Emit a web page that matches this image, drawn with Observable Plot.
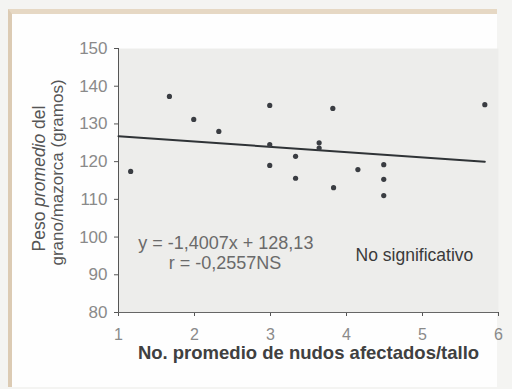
<!DOCTYPE html>
<html><head><meta charset="utf-8">
<script src="https://cdn.jsdelivr.net/npm/d3@7"></script>
<script src="https://cdn.jsdelivr.net/npm/@observablehq/plot@0.6"></script>
<style>
html,body{margin:0;padding:0;background:#f4f4f2;}
#wrap{position:absolute;left:0;top:0;width:512px;height:389px;}
#panel{position:absolute;left:8px;top:9px;width:489px;height:378px;background:#fefefe;border-top:5px solid #e6d8c4;border-left:4px solid #dccbb4;box-sizing:border-box;}
#chart{position:absolute;left:0;top:0;}
</style></head>
<body>
<div id="wrap"><div id="panel"></div><div id="chart"></div></div>
<script>
const nudos = [1.16, 1.67, 1.99, 2.32, 2.99, 2.99, 2.99, 3.33, 3.33, 3.64, 3.64, 3.82, 3.83, 4.15, 4.49, 4.49, 4.49, 5.82];
const peso  = [117.4, 137.3, 131.2, 128.0, 134.9, 124.5, 119.0, 121.4, 115.6, 125.0, 123.6, 134.1, 113.1, 117.9, 119.2, 115.3, 111.0, 135.1];
const xTicks = [1, 2, 3, 4, 5, 6];
const yTicks = [80, 90, 100, 110, 120, 130, 140, 150];
const slope = -1.4007, intercept = 128.13;
const lineX = [1, 5.82];
const eqText = ["y = -1,4007x + 128,13", "r = -0,2557NS"];
const noteText = "No significativo";
const xTitle = "No. promedio de nudos afectados/tallo";
const yTitle = ["Peso promedio del", "grano/mazorca (gramos)"];

const pts = nudos.map((x, i) => ({x, y: peso[i]}));
const fit = lineX.map(x => ({x, y: slope * x + intercept}));

const chart = Plot.plot({
  width: 512, height: 389,
  marginLeft: 118, marginRight: 14, marginTop: 48, marginBottom: 77,
  style: {background: "transparent", fontFamily: "Liberation Sans, Arial, sans-serif"},
  x: {domain: [1, 6]},
  y: {domain: [80, 150]},
  marks: [
    Plot.frame({fill: "#ededeb", stroke: "none"}),
    Plot.axisX({ticks: xTicks, tickFormat: d3.format("d"), tickSize: 4, tickPadding: 12, fontSize: 16, color: "#8a8a8a", stroke: "#555", label: null}),
    Plot.axisY({ticks: yTicks, tickFormat: d3.format("d"), tickSize: 4, tickPadding: 7, fontSize: 17, color: "#8a8a8a", stroke: "#555", label: null}),
    Plot.ruleX([1], {stroke: "#555", strokeWidth: 1}),
    Plot.ruleY([80], {stroke: "#666", strokeWidth: 1.2}),
    Plot.line(fit, {x: "x", y: "y", stroke: "#2f3336", strokeWidth: 2}),
    Plot.dot(pts, {x: "x", y: "y", r: 2.6, fill: "#3a3d42", stroke: "none"}),
    Plot.text([eqText[0]], {x: 1.26, y: 98.3, text: d => d, textAnchor: "start", fontSize: 18, fill: "#6a6a6a"}),
    Plot.text([eqText[1]], {x: 1.66, y: 93.0, text: d => d, textAnchor: "start", fontSize: 18, fill: "#6a6a6a"}),
    Plot.text([noteText], {x: 4.12, y: 95.1, text: d => d, textAnchor: "start", fontSize: 17.5, fill: "#3a3a3a"}),
    Plot.text([xTitle], {frameAnchor: "bottom", dy: 46, text: d => d, fontSize: 18.5, fill: "#404040", fontWeight: "bold"}),
    Plot.text([yTitle[0]], {frameAnchor: "left", textAnchor: "middle", dx: -79, dy: -2, rotate: -90, text: d => d, fontSize: 17.5, fill: "#555", className: "ytitle1"}),
    Plot.text([yTitle[1]], {frameAnchor: "left", textAnchor: "middle", dx: -61, dy: -8, rotate: -90, text: d => d, fontSize: 17, fill: "#555"})
  ]
});
document.getElementById("chart").appendChild(chart);
// italicize "promedio" in the first y-title line
d3.select(chart).selectAll("g.ytitle1 text").each(function() {
  const t = d3.select(this);
  const s = t.text();
  const parts = s.split("promedio");
  if (parts.length === 2) {
    t.text(null);
    t.append("tspan").text(parts[0]);
    t.append("tspan").attr("font-style", "italic").text("promedio");
    t.append("tspan").text(parts[1]);
  }
});
</script>
</body></html>
